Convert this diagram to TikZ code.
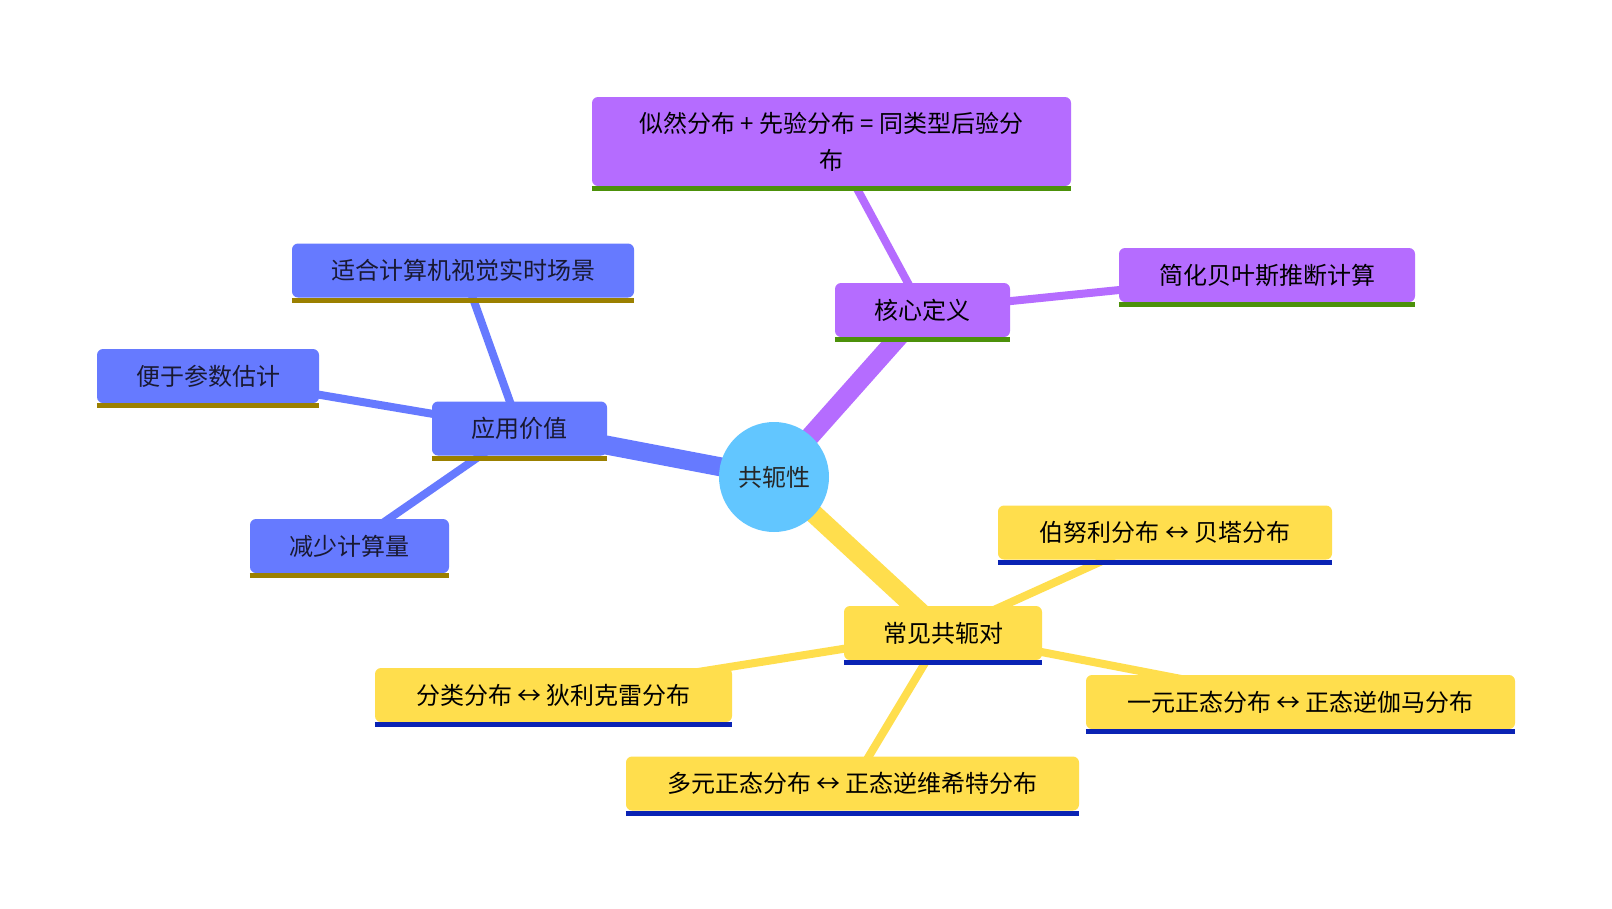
\documentclass[tikz,border=0pt]{standalone}
\usepackage{fontspec}
\setmainfont{Noto Sans CJK SC}
\usetikzlibrary{backgrounds}
\definecolor{cpurple}{RGB}{181,108,255}
\definecolor{cblue}{RGB}{102,122,255}
\definecolor{cyellow}{RGB}{255,222,77}
\definecolor{ccircle}{RGB}{98,198,255}
\definecolor{ugreen}{RGB}{76,145,10}
\definecolor{uolive}{RGB}{155,128,0}
\definecolor{ublue}{RGB}{10,35,180}
\definecolor{bluetext}{RGB}{25,25,50}
\tikzset{
  box/.style={rectangle, rounded corners=6pt, minimum height=54pt, inner sep=0pt,
    align=center, font=\fontsize{24}{37}\selectfont},
  purplebox/.style={box, fill=cpurple, text=black},
  bluebox/.style={box, fill=cblue, text=bluetext},
  yellowbox/.style={box, fill=cyellow, text=black},
  mainedge/.style={line width=19pt},
  subedge/.style={line width=8pt},
  uline/.style={line width=5pt},
}
\begin{document}
\begin{tikzpicture}[x=1pt,y=-1pt]
\useasboundingbox (0,0) rectangle (1612,908);

\node[circle, fill=ccircle, minimum size=110pt, inner sep=0pt, text=black!85, font=\fontsize{24}{28}\selectfont] (root) at (774,477) {共轭性};

\node[purplebox, minimum width=175pt] (hx) at (922.5,310) {核心定义};
\node[purplebox, minimum width=479pt, minimum height=89pt] (sr) at (831.5,141.5) {似然分布 + 先验分布 = 同类型后验分\\布};
\node[purplebox, minimum width=296pt] (jh) at (1267,275) {简化贝叶斯推断计算};

\node[bluebox, minimum width=175pt] (yy) at (519.5,428.5) {应用价值};
\node[bluebox, minimum width=342pt] (sh) at (463,270.5) {适合计算机视觉实时场景};
\node[bluebox, minimum width=222pt] (by) at (208,376) {便于参数估计};
\node[bluebox, minimum width=199pt] (js) at (349.5,546) {减少计算量};

\node[yellowbox, minimum width=198pt] (cj) at (943,633) {常见共轭对};
\node[yellowbox, minimum width=334pt] (bn) at (1165,532.5) {伯努利分布 ↔ 贝塔分布};
\node[yellowbox, minimum width=357pt] (fl) at (553.5,695) {分类分布 ↔ 狄利克雷分布};
\node[yellowbox, minimum width=429pt] (yz) at (1300.5,702) {一元正态分布 ↔ 正态逆伽马分布};
\node[yellowbox, minimum width=453pt] (dz) at (852.5,783.5) {多元正态分布 ↔ 正态逆维希特分布};

\foreach \n/\c in {hx/ugreen, sr/ugreen, jh/ugreen, yy/uolive, sh/uolive, by/uolive, js/uolive, cj/ublue, bn/ublue, fl/ublue, yz/ublue, dz/ublue}
  \draw[uline, \c] ([yshift=-2.5pt]\n.south west) -- ([yshift=-2.5pt]\n.south east);

\begin{scope}[on background layer]
\fill[white] (0,0) rectangle (1612,908);
\draw[mainedge, cpurple] (root.center) -- (hx.center);
\draw[mainedge, cblue] (root.center) -- (yy.center);
\draw[mainedge, cyellow] (root.center) -- (cj.center);
\draw[subedge, cpurple] (hx.center) -- (sr.center);
\draw[subedge, cpurple] (hx.center) -- (jh.center);
\draw[subedge, cblue] (yy.center) -- (sh.center);
\draw[subedge, cblue] (yy.center) -- (by.center);
\draw[subedge, cblue] (yy.center) -- (js.center);
\draw[subedge, cyellow] (cj.center) -- (bn.center);
\draw[subedge, cyellow] (cj.center) -- (fl.center);
\draw[subedge, cyellow] (cj.center) -- (yz.center);
\draw[subedge, cyellow] (cj.center) -- (dz.center);
\end{scope}
\end{tikzpicture}
\end{document}
